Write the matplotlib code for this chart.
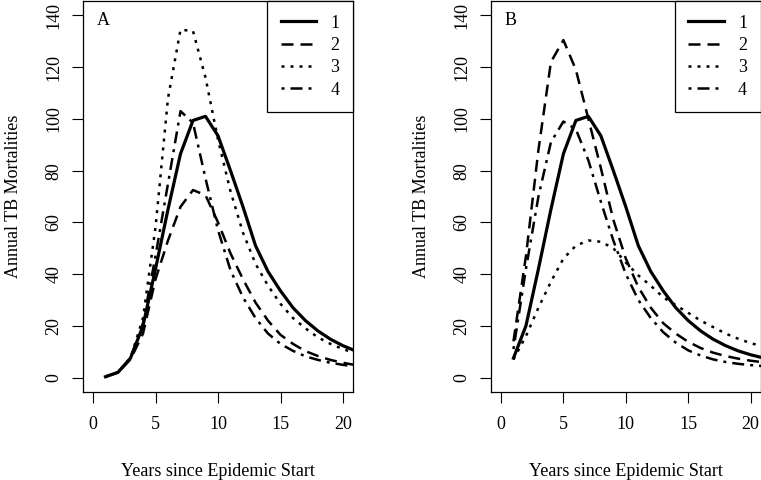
import matplotlib
matplotlib.use('Agg')
import matplotlib.pyplot as plt

plt.rcParams['font.family'] = ['Liberation Serif', 'DejaVu Serif']

# 年份
years = list(range(1, 22))

# Panel A
a_s1 = [0.3, 2, 7.5, 20, 42, 65, 86.5, 99.4, 101, 93.5, 80, 66, 51, 41, 33.5, 27, 22, 18, 14.8, 12.3, 10.3]
a_s2 = [0.3, 2, 7, 17, 38, 53, 66, 72.5, 70.5, 60, 48, 38, 29, 22, 16.5, 13, 10.2, 8.3, 6.8, 5.7, 4.8]
a_s3 = [0.3, 2, 7.5, 23, 58, 108, 134.5, 134, 116, 92, 72, 56, 44, 35.5, 28.5, 23, 19, 15.5, 13, 11, 9.3]
a_s4 = [0.3, 2, 7.5, 21, 47, 75, 103, 98.5, 77, 57, 41.5, 31, 23, 17, 13, 10.3, 8.2, 6.8, 5.7, 4.9, 4.2]

# Panel B
b_s1 = [7.5, 20, 42, 65, 86.5, 99.4, 101, 93.5, 80, 66, 51, 41, 33.5, 27, 22, 18, 14.8, 12.3, 10.3, 8.8, 7.6]
b_s2 = [14, 47, 88, 122, 130.5, 119, 100, 81, 61, 46, 35, 27, 21, 17, 13.8, 11.4, 9.6, 8.3, 7.3, 6.5, 5.9]
b_s3 = [7, 16, 27, 37, 46, 51, 53, 52.5, 50, 44.5, 39.5, 35.5, 31, 28, 25, 22, 19.5, 17, 15, 13.3, 12]
b_s4 = [11, 42, 70, 91, 99, 96, 84, 68, 53, 40, 30, 23, 17.5, 13.5, 10.5, 8.5, 7, 6, 5.3, 4.8, 4.4]

labels = ['1', '2', '3', '4']
styles = [
    dict(linestyle='-', linewidth=2.3),
    dict(linestyle=(0, (4.8, 2.8)), linewidth=1.8),
    dict(linestyle=(0, (1.2, 2.4)), linewidth=1.8),
    dict(linestyle=(0, (1.2, 2.4, 4.8, 2.4)), linewidth=1.8),
]

fig = plt.figure(figsize=(7.61, 4.8), dpi=100)
ax_a = fig.add_axes([83 / 761, 1 - 392 / 480, 270 / 761, 391 / 480])
ax_b = fig.add_axes([491 / 761, 1 - 392 / 480, 270 / 761 - 0.0005, 391 / 480])

panels = [
    (ax_a, 'A', [a_s1, a_s2, a_s3, a_s4]),
    (ax_b, 'B', [b_s1, b_s2, b_s3, b_s4]),
]

for ax, tag, series in panels:
    for vals, lab, st in zip(series, labels, styles):
        ax.plot(years, vals, color='black', label=lab, **st)

    ax.set_xlim(-0.8, 20.8)
    ax.set_ylim(-5.6, 145.6)
    ax.set_xticks([0, 5, 10, 15, 20])
    ax.set_yticks(range(0, 141, 20))
    ax.set_yticklabels([str(v) for v in range(0, 141, 20)], rotation=90, va='center')
    ax.tick_params(direction='out', length=8, width=0.8, labelsize=13)
    ax.tick_params(axis='x', pad=9)
    ax.tick_params(axis='y', pad=7)
    for sp in ax.spines.values():
        sp.set_linewidth(0.9)

    ax.set_xlabel('Years since Epidemic Start', fontsize=13, labelpad=22)
    ax.set_ylabel('Annual TB Mortalities', fontsize=13, labelpad=17)
    ax.text(0.074, 0.951, tag, transform=ax.transAxes, fontsize=13,
            ha='center', va='center')

    leg = ax.legend(loc='upper right', borderaxespad=0, fancybox=False,
                    edgecolor='black', fontsize=13, handlelength=1.95,
                    handletextpad=0.8, labelspacing=0.3, borderpad=0.75,
                    framealpha=1)
    leg.get_frame().set_linewidth(0.9)

fig.savefig('out.png', dpi=100)
